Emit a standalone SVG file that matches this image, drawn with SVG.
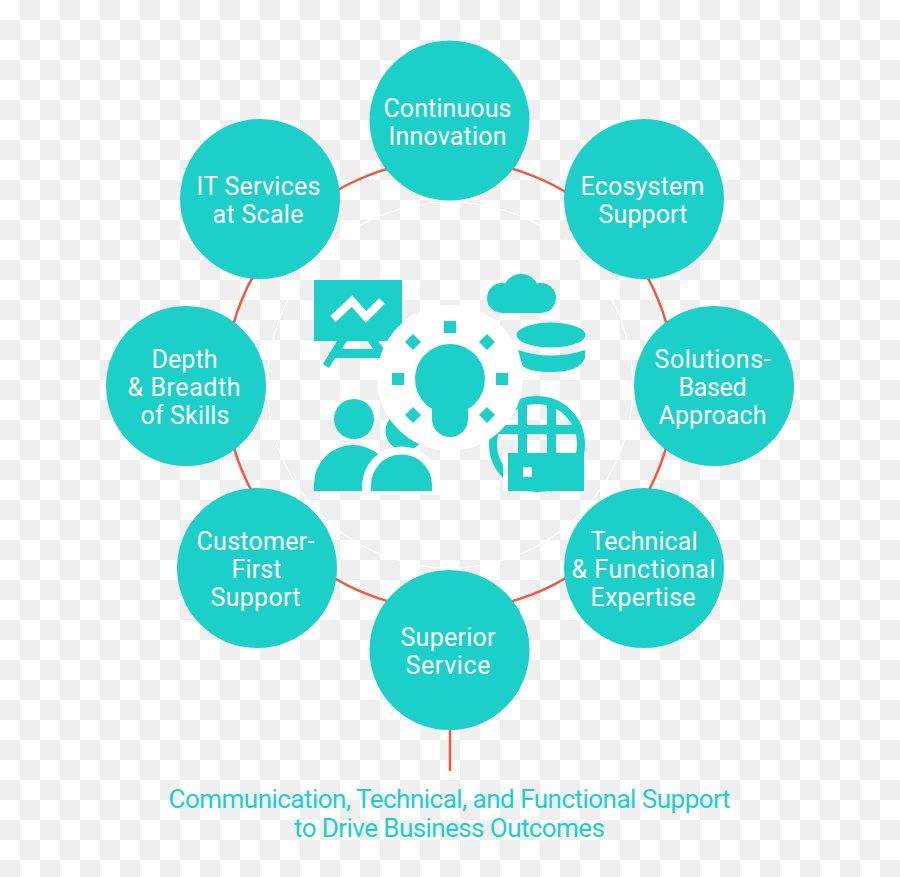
<svg xmlns="http://www.w3.org/2000/svg" width="900" height="877" viewBox="0 0 900 877">
<style>
.n{fill:#1dcfc9}
.t{font-family:"Roboto","Liberation Sans",sans-serif;font-size:25px;fill:#fff;text-anchor:middle}
.c{font-family:"Roboto","Liberation Sans",sans-serif;font-size:26px;fill:#1dcfc9;text-anchor:middle}
.r{fill:none;stroke:#ee5a40;stroke-width:2.5}
.i{fill:#1dcfc9}
</style>
<defs>
<pattern id="chk" width="40" height="40" patternUnits="userSpaceOnUse">
<rect width="40" height="40" fill="#fff"/>
<rect x="0" y="20" width="20" height="20" fill="#efefef"/>
<rect x="20" y="0" width="20" height="20" fill="#efefef"/>
</pattern>
<clipPath id="globeClip"><circle cx="537" cy="444" r="46"/></clipPath>
</defs>
<rect id="background" width="900" height="877" fill="url(#chk)"/>
<g id="connectors">
<circle class="r" cx="450" cy="385" r="225"/>
<line class="r" x1="450" y1="728" x2="450" y2="771"/>
<circle cx="450" cy="385" r="183" fill="none" stroke="#fff" stroke-width="1.2"/>
</g>
<g id="icon-center">
<g id="icon-board">
<rect class="i" x="314" y="280" width="88" height="61"/>
<polyline points="333,319 352,301 366,317 382,301" fill="none" stroke="#fff" stroke-width="8"/>
<path class="i" d="M337,341 L347,341 L342,349 L373,349 L368,341 L378,341 L391,358 L335,358 L329,368 L323,364 Z"/>
</g>
<g id="icon-cloud">
<circle class="i" cx="502" cy="298" r="15"/>
<circle class="i" cx="521" cy="292" r="18"/>
<circle class="i" cx="541" cy="298" r="15"/>
<rect class="i" x="502" y="296" width="39" height="17"/>
</g>
<g id="icon-database">
<ellipse class="i" cx="551" cy="335" rx="34.500" ry="12.500"/>
<path class="i" d="M518,350 Q551,361 585,350 L585,358 Q580,372 551,372 Q527,372 522,365 Z"/>
</g>
<g id="icon-globe">
<circle cx="537" cy="444" r="44" fill="none" stroke="#1dcfc9" stroke-width="8"/>
<g clip-path="url(#globeClip)">
<rect class="i" x="490" y="425" width="94" height="9"/>
<rect class="i" x="518" y="396" width="9" height="96"/>
<rect class="i" x="547" y="396" width="9" height="96"/>
</g>
</g>
<g id="icon-people">
<circle class="i" cx="354" cy="419" r="20"/>
<path class="i" d="M314,491 L314,484 A39,39 0 0 1 392,484 L392,491 Z"/>
<circle class="i" cx="405" cy="431" r="19.500"/>
</g>
<circle cx="450" cy="378" r="73" fill="#fff"/>
<path d="M362,495 L362,486 A39,39 0 0 1 441,486 L441,495 Z" fill="#fff"/>
<path class="i" d="M371,491 L371,485 A30.500,30.500 0 0 1 432,485 L432,491 Z"/>
<rect x="503" y="450" width="5" height="41" fill="#fff"/>
<path class="i" d="M508,453 H584 V491 H508 Z"/>
<rect x="523" y="467" width="9" height="10" fill="#fff"/>
<g id="icon-bulb">
<path class="i" d="M432,409 A35,35 0 1 1 468,409 V419 A18,18 0 0 1 432,419 Z"/>
<rect class="i" x="444" y="321" width="12" height="12"/>
<rect class="i" x="392" y="373" width="12" height="12"/>
<rect class="i" x="496" y="373" width="12" height="12"/>
<path class="i" d="M413,334 L421,342 L413,350 L405,342 Z M487,334 L495,342 L487,350 L479,342 Z M413,407 L421,415 L413,423 L405,415 Z M487,407 L495,415 L487,423 L479,415 Z"/>
</g>
</g>
<g id="node-continuous"><circle class="n" cx="449.500" cy="120.500" r="80"/><text class="t" x="447.500" y="117" textLength="128">Continuous</text><text class="t" x="447.500" y="145" textLength="118">Innovation</text></g>
<g id="node-ecosystem"><circle class="n" cx="644" cy="199" r="80"/><text class="t" x="642.500" y="195" textLength="124">Ecosystem</text><text class="t" x="643" y="223" textLength="89">Support</text></g>
<g id="node-solutions"><circle class="n" cx="714" cy="386" r="80"/><text class="t" x="712.500" y="368" textLength="116">Solutions-</text><text class="t" x="712.500" y="396" textLength="68">Based</text><text class="t" x="712.500" y="424" textLength="108">Approach</text></g>
<g id="node-technical"><circle class="n" cx="644" cy="568" r="80"/><text class="t" x="644" y="550" textLength="107">Technical</text><text class="t" x="643.500" y="578" textLength="144">&amp; Functional</text><text class="t" x="643" y="606" textLength="105">Expertise</text></g>
<g id="node-superior"><circle class="n" cx="449.500" cy="650" r="80"/><text class="t" x="448" y="646" textLength="95">Superior</text><text class="t" x="448" y="674" textLength="85">Service</text></g>
<g id="node-customer"><circle class="n" cx="257" cy="568" r="80"/><text class="t" x="255.500" y="550" textLength="118">Customer-</text><text class="t" x="256.500" y="578" textLength="50">First</text><text class="t" x="255.500" y="606" textLength="90">Support</text></g>
<g id="node-depth"><circle class="n" cx="186" cy="386" r="80"/><text class="t" x="184.500" y="368" textLength="66">Depth</text><text class="t" x="184" y="396" textLength="113">&amp; Breadth</text><text class="t" x="185" y="424" textLength="89">of Skills</text></g>
<g id="node-it"><circle class="n" cx="260" cy="199" r="80"/><text class="t" x="258.500" y="195" textLength="124">IT Services</text><text class="t" x="258" y="223" textLength="91">at Scale</text></g>
<g id="caption"><text class="c" x="449.500" y="808" textLength="562">Communication, Technical, and Functional Support</text><text class="c" x="449.500" y="837" textLength="311">to Drive Business Outcomes</text></g>
</svg>
